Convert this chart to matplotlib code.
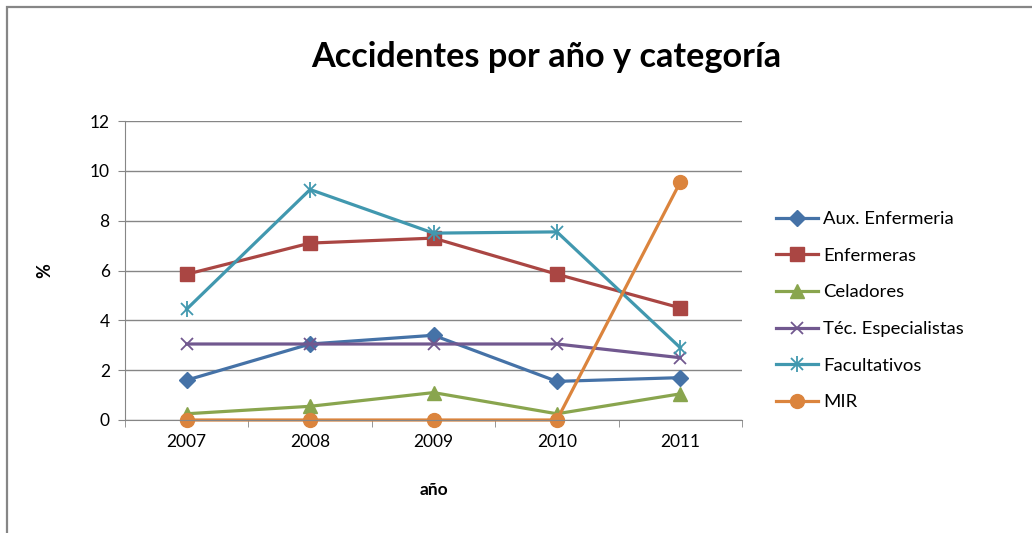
import matplotlib.pyplot as plt
from matplotlib.patches import Rectangle

years = ['2007', '2008', '2009', '2010', '2011']

aux_enfermeria = [1.6, 3.05, 3.4, 1.55, 1.7]
enfermeras = [5.85, 7.1, 7.3, 5.85, 4.5]
celadores = [0.25, 0.55, 1.1, 0.25, 1.05]
tec_especialistas = [3.05, 3.05, 3.05, 3.05, 2.5]
facultativos = [4.45, 9.25, 7.5, 7.55, 2.9]
mir = [0, 0, 0, 0, 9.55]

plt.rcParams['font.family'] = ['Lato', 'DejaVu Sans']

fig = plt.figure(figsize=(10.32, 5.33), dpi=100)
ax = fig.add_axes([125 / 1032, 113 / 533, 617 / 1032, 299 / 533])

# marco del gráfico (como en Excel)
fig.patches.append(Rectangle((7 / 1032, -0.1), 1.2, 1 - 7 / 533 + 0.1,
                             transform=fig.transFigure, fill=False,
                             edgecolor='#868686', linewidth=1.6))

x = range(len(years))
lw = 2.3
handles = []
h, = ax.plot(x, aux_enfermeria, color='#4572A7', lw=lw, marker='D', ms=8.5,
             clip_on=False)
handles.append(h)
h, = ax.plot(x, enfermeras, color='#AA4643', lw=lw, marker='s', ms=9.5,
             clip_on=False)
handles.append(h)
h, = ax.plot(x, celadores, color='#89A54E', lw=lw, marker='^', ms=10,
             clip_on=False)
handles.append(h)
h, = ax.plot(x, tec_especialistas, color='#71588F', lw=lw, marker='x', ms=9,
             mew=1.3, clip_on=False)
handles.append(h)
h1, = ax.plot(x, facultativos, color='#4198AF', lw=lw, marker='x', ms=9,
              mew=1.3, clip_on=False)
h2, = ax.plot(x, facultativos, color='#4198AF', lw=0, marker='|', ms=11,
              mew=1.3, clip_on=False)
handles.append((h1, h2))
h, = ax.plot(x, mir, color='#DB843D', lw=lw, marker='o', ms=10,
             clip_on=False)
handles.append(h)

labels = ['Aux. Enfermeria', 'Enfermeras', 'Celadores', 'Téc. Especialistas',
          'Facultativos', 'MIR']

ax.set_xlim(-0.5, 4.5)
ax.set_ylim(0, 12)
ax.set_yticks(range(0, 13, 2))
ax.set_xticks(list(x))
ax.set_xticklabels(years)
ax.set_xticks([i - 0.5 for i in range(6)], minor=True)
ax.tick_params(axis='x', which='major', length=0, pad=10, labelsize=12.5)
ax.tick_params(axis='x', which='minor', length=5, color='#868686')
ax.tick_params(axis='y', length=5, color='#868686', pad=6, labelsize=12.5)
ax.grid(axis='y', color='#868686', lw=1)
ax.set_axisbelow(True)
for s in ['top', 'right']:
    ax.spines[s].set_visible(False)
for s in ['left', 'bottom']:
    ax.spines[s].set_color('#868686')

ax.set_xlabel('año', fontweight='bold', fontsize=12.5, labelpad=23)
ax.set_ylabel('%', fontweight='bold', fontsize=13, labelpad=26)

fig.text(546 / 1032, 1 - 57 / 533, 'Accidentes por año y categoría',
         ha='center', va='center', fontsize=24.7, fontweight='bold')

fig.legend(handles, labels, loc='upper left',
           bbox_to_anchor=(776 / 1032, 1 - 211 / 533),
           frameon=False, fontsize=13.3, handlelength=2.3, handletextpad=0.25,
           labelspacing=1.12, borderaxespad=0, borderpad=0)

plt.savefig('out.png', dpi=100)
